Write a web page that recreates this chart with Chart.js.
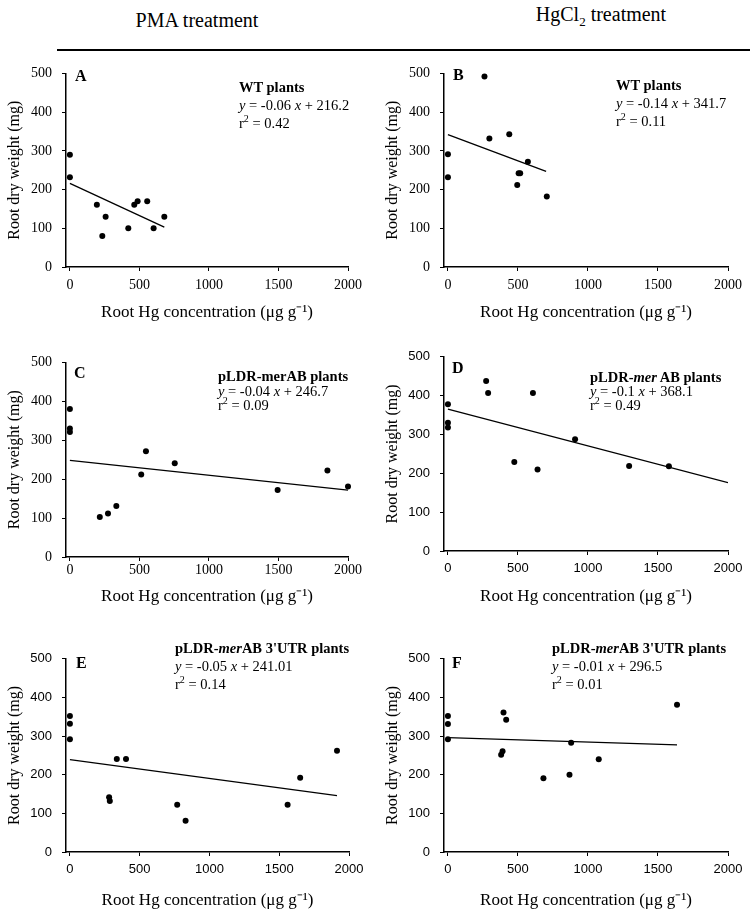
<!DOCTYPE html>
<html>
<head>
<meta charset="utf-8">
<script src="https://cdn.jsdelivr.net/npm/chart.js@4.4.0/dist/chart.umd.min.js"></script>
<style>
  body { margin: 0; background: #fff; }
  #page { position: relative; width: 750px; height: 913px; overflow: hidden;
          font-family: "Liberation Serif", "Times New Roman", serif; color: #000; }
  canvas { position: absolute; }
  .hdr { position: absolute; font-size: 20px; white-space: nowrap; transform: translate(-50%, -50%); }
  .rule { position: absolute; left: 57px; top: 49px; width: 693px; height: 2px; background: #000; }
  .tag { position: absolute; font-weight: bold; font-size: 16px; line-height: 16px; transform: translateY(-50%); }
  .note { position: absolute; font-size: 14.5px; white-space: nowrap; }
  .note sup { font-size: 10px; line-height: 0; vertical-align: 6px; }
</style>
</head>
<body>
<div id="page">
  <div class="hdr" style="left:197px; top:20px;">PMA treatment</div>
  <div class="hdr" style="left:601px; top:16px;">HgCl<sub style="font-size:13px">2</sub> treatment</div>
  <div class="rule"></div>
</div>
<script>
// tick values shared by all six panels
const xTicks = [0, 500, 1000, 1500, 2000];
const yTicks = [0, 100, 200, 300, 400, 500];

// A - PMA, WT plants
const pmaWtX = [0, 0, 194, 233, 257, 420, 463, 487, 556, 602, 679];
const pmaWtY = [290, 232, 161, 80, 130, 100, 161, 170, 170, 100, 130];
const pmaWtFitX = [0, 679];
const pmaWtFitY = [216, 103];

// B - HgCl2, WT plants
const hgWtX = [0, 0, 261, 296, 438, 495, 505, 516, 571, 706];
const hgWtY = [291, 232, 492, 332, 343, 212, 242, 242, 272, 182];
const hgWtFitX = [0, 701];
const hgWtFitY = [342, 247];

// C - PMA, pLDR-merAB plants
const pmaMerX = [0, 0, 0, 215, 274, 334, 513, 547, 754, 1494, 1852, 2000];
const pmaMerY = [380, 330, 321, 103, 112, 131, 212, 272, 241, 172, 222, 181];
const pmaMerFitX = [0, 2000];
const pmaMerFitY = [248, 172];

// D - HgCl2, pLDR-merAB plants
const hgMerX = [0, 0, 0, 273, 287, 607, 474, 640, 908, 1294, 1578];
const hgMerY = [378, 330, 318, 438, 407, 407, 229, 210, 288, 219, 218];
const hgMerFitX = [0, 2000];
const hgMerFitY = [365, 176];

// E - PMA, pLDR-merAB 3'UTR plants
const pmaUtrX = [0, 0, 0, 281, 286, 336, 402, 769, 829, 1560, 1650, 1914];
const pmaUtrY = [352, 332, 292, 142, 132, 241, 241, 122, 81, 122, 192, 262];
const pmaUtrFitX = [0, 1914];
const pmaUtrFitY = [239, 146];

// F - HgCl2, pLDR-merAB 3'UTR plants
const hgUtrX = [0, 0, 0, 397, 416, 390, 380, 682, 868, 880, 1077, 1636];
const hgUtrY = [352, 331, 292, 361, 342, 261, 252, 191, 200, 283, 240, 381];
const hgUtrFitX = [0, 1636];
const hgUtrFitY = [296, 277];

const serif = '"Liberation Serif", "Times New Roman", serif';
const sans = '"Liberation Sans", Arial, sans-serif';

const panels = [
  { tag: 'A', xs: pmaWtX, ys: pmaWtY, fx: pmaWtFitX, fy: pmaWtFitY,
    box: { l: 66, r: 348, t: 67, b: 267 }, tickFont: serif, tickSize: 14, xPad: 6, titleGap: 46,
    tagPos: [75, 76], notePos: [239, 78, 18],
    note: '<b>WT plants</b><br><i>y</i> = -0.06 <i>x</i> + 216.2<br>r<sup>2</sup> = 0.42' },
  { tag: 'B', xs: hgWtX, ys: hgWtY, fx: hgWtFitX, fy: hgWtFitY,
    box: { l: 444, r: 728, t: 67, b: 267 }, tickFont: serif, tickSize: 14, xPad: 6, titleGap: 46,
    tagPos: [453, 75], notePos: [616, 76, 18],
    note: '<b>WT plants</b><br><i>y</i> = -0.14 <i>x</i> + 341.7<br>r<sup>2</sup> = 0.11' },
  { tag: 'C', xs: pmaMerX, ys: pmaMerY, fx: pmaMerFitX, fy: pmaMerFitY,
    box: { l: 66, r: 348, t: 356, b: 557 }, tickFont: serif, tickSize: 14, xPad: 1, titleGap: 40,
    tagPos: [74, 373], notePos: [218, 369, 14.5],
    note: '<b>pLDR-merAB plants</b><br><i>y</i> = -0.04 <i>x</i> + 246.7<br>r<sup>2</sup> = 0.09' },
  { tag: 'D', xs: hgMerX, ys: hgMerY, fx: hgMerFitX, fy: hgMerFitY,
    box: { l: 444, r: 728, t: 351, b: 551 }, tickFont: sans, tickSize: 13, xPad: 6, titleGap: 46,
    tagPos: [452, 368], notePos: [590, 370, 14],
    note: '<b>pLDR-<i>mer</i> AB plants</b><br><i>y</i> = -0.1 <i>x</i> + 368.1<br>r<sup>2</sup> = 0.49' },
  { tag: 'E', xs: pmaUtrX, ys: pmaUtrY, fx: pmaUtrFitX, fy: pmaUtrFitY,
    box: { l: 66, r: 349, t: 653, b: 852 }, tickFont: sans, tickSize: 13, xPad: 6, titleGap: 49,
    tagPos: [76, 663], notePos: [175, 639, 18],
    note: '<b>pLDR-<i>mer</i>AB 3\'UTR plants</b><br><i>y</i> = -0.05 <i>x</i> + 241.01<br>r<sup>2</sup> = 0.14' },
  { tag: 'F', xs: hgUtrX, ys: hgUtrY, fx: hgUtrFitX, fy: hgUtrFitY,
    box: { l: 444, r: 728, t: 653, b: 852 }, tickFont: sans, tickSize: 13, xPad: 6, titleGap: 49,
    tagPos: [452, 663], notePos: [552, 639, 18],
    note: '<b>pLDR-<i>mer</i>AB 3\'UTR plants</b><br><i>y</i> = -0.01 <i>x</i> + 296.5<br>r<sup>2</sup> = 0.01' }
];

const page = document.getElementById('page');

function makePanel(p) {
  const yw = 66, tp = 12, rp = 22;
  const xh = p.titleGap + 14.2;
  const rawH = tp + (p.box.b - p.box.t) + xh;
  const h = Math.ceil(rawH);
  const w = yw + (p.box.r - p.box.l) + rp;

  const cv = document.createElement('canvas');
  cv.width = w;
  cv.height = h;
  cv.style.left = (p.box.l - yw) + 'px';
  cv.style.top = (p.box.t - tp) + 'px';
  page.appendChild(cv);

  const tickFont = { family: p.tickFont, size: p.tickSize };
  const pts = p.xs.map((x, i) => ({ x, y: p.ys[i] }));
  const fit = p.fx.map((x, i) => ({ x, y: p.fy[i] }));

  new Chart(cv, {
    type: 'scatter',
    data: {
      datasets: [
        { data: pts, pointRadius: 3, pointBackgroundColor: '#000', pointBorderWidth: 0, clip: false },
        { data: fit, showLine: true, pointRadius: 0, borderColor: '#000', borderWidth: 1.3 }
      ]
    },
    options: {
      responsive: false,
      animation: false,
      devicePixelRatio: 1,
      layout: { padding: { left: 0, top: tp, right: rp, bottom: h - rawH } },
      plugins: { legend: { display: false }, tooltip: { enabled: false } },
      scales: {
        x: {
          type: 'linear', min: -28, max: 2000,
          afterBuildTicks: s => { s.ticks = xTicks.map(v => ({ value: v })); },
          afterFit: s => { s.height = xh; },
          ticks: { font: tickFont, color: '#000', padding: p.xPad, maxRotation: 0, callback: v => String(v) },
          grid: { drawOnChartArea: false, tickLength: 4, color: '#000' },
          border: { color: '#000', width: 1.5 },
          title: { display: true, text: 'Root Hg concentration (\u03bcg g\u207b\u00b9)',
                   font: { family: serif, size: 17 }, color: '#000', padding: { top: 0, bottom: 4 } }
        },
        y: {
          type: 'linear', min: 0, max: 500,
          afterBuildTicks: s => { s.ticks = yTicks.map(v => ({ value: v })); },
          afterFit: s => { s.width = yw; },
          ticks: { font: tickFont, color: '#000', padding: 10, callback: v => String(v) },
          grid: { drawOnChartArea: false, tickLength: 4, color: '#000' },
          border: { color: '#000', width: 1.5 },
          title: { display: true, text: 'Root dry weight (mg)',
                   font: { family: serif, size: 16 }, color: '#000', padding: { top: 5.4, bottom: 0 } }
        }
      }
    }
  });

  const tag = document.createElement('div');
  tag.className = 'tag';
  tag.style.left = p.tagPos[0] + 'px';
  tag.style.top = p.tagPos[1] + 'px';
  tag.textContent = p.tag;
  page.appendChild(tag);

  const note = document.createElement('div');
  note.className = 'note';
  note.style.left = p.notePos[0] + 'px';
  note.style.top = p.notePos[1] + 'px';
  note.style.lineHeight = p.notePos[2] + 'px';
  note.innerHTML = p.note;
  page.appendChild(note);
}

panels.forEach(makePanel);
</script>
</body>
</html>
